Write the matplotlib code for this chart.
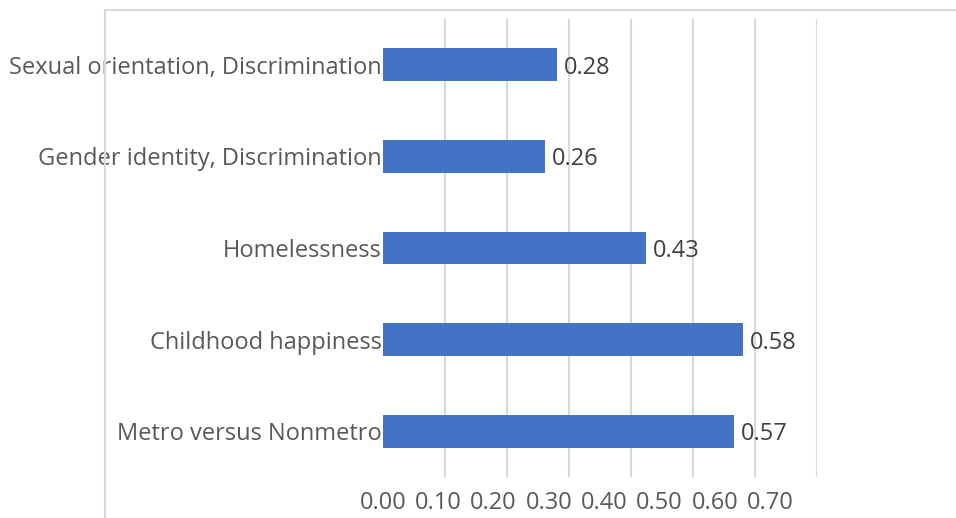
import matplotlib
matplotlib.use("Agg")
import matplotlib.pyplot as plt
from matplotlib.patches import Rectangle
from matplotlib.transforms import offset_copy

categories = ["Metro versus Nonmetro", "Childhood happiness", "Homelessness",
              "Gender identity, Discrimination", "Sexual orientation, Discrimination"]
values = [0.566, 0.58, 0.424, 0.261, 0.281]
value_labels = ["0.57", "0.58", "0.43", "0.26", "0.28"]
tick_labels = ["0.00", "0.10", "0.20", "0.30", "0.40", "0.50", "0.60", "0.70"]

plt.rcParams["font.family"] = ["Open Sans", "DejaVu Sans"]

fig = plt.figure(figsize=(9.56, 5.18), dpi=100)
ax = fig.add_axes([383 / 956, 1 - 477 / 518, 434 / 956, 458 / 518])

# chart frame (cropped at right and bottom)
fig.patches.append(Rectangle((105 / 956, -0.1), 1.0, 1 - 10 / 518 + 0.1,
                             transform=fig.transFigure, fill=False,
                             edgecolor="#d9d9d9", linewidth=1.5))

ypos = list(range(len(categories)))
ax.barh(ypos, values, height=0.36, color="#4472C4", zorder=3)
lab_tr = offset_copy(ax.transData, fig=fig, x=0, y=-3, units="dots")
for y, v, lab in zip(ypos, values, value_labels):
    ax.text(v + 0.011, y, lab, va="center", ha="left", fontsize=17,
            color="#404040", transform=lab_tr)

ax.set_xlim(0, 0.7)
ax.set_ylim(-0.5, len(categories) - 0.5)
ax.set_yticks(ypos)
ax.set_yticklabels(categories, fontsize=17, color="#595959")

# gridlines at the real 0.1 steps, labels squeezed as in the source picture
ax.set_xticks([i * 0.1 for i in range(8)], minor=True)
ax.set_xticks([i * 0.0892 for i in range(8)])
ax.set_xticklabels(tick_labels, fontsize=17, color="#595959")
ax.grid(which="minor", axis="x", color="#d9d9d9", linewidth=1.5, zorder=0)
ax.tick_params(which="both", length=0)
ax.tick_params(axis="y", pad=1)
ax.tick_params(axis="x", pad=10)
for s in ax.spines.values():
    s.set_visible(False)
ax.axvline(0.7, color="#d9d9d9", linewidth=1.5, zorder=0)

fig.savefig("out.png", dpi=100)
